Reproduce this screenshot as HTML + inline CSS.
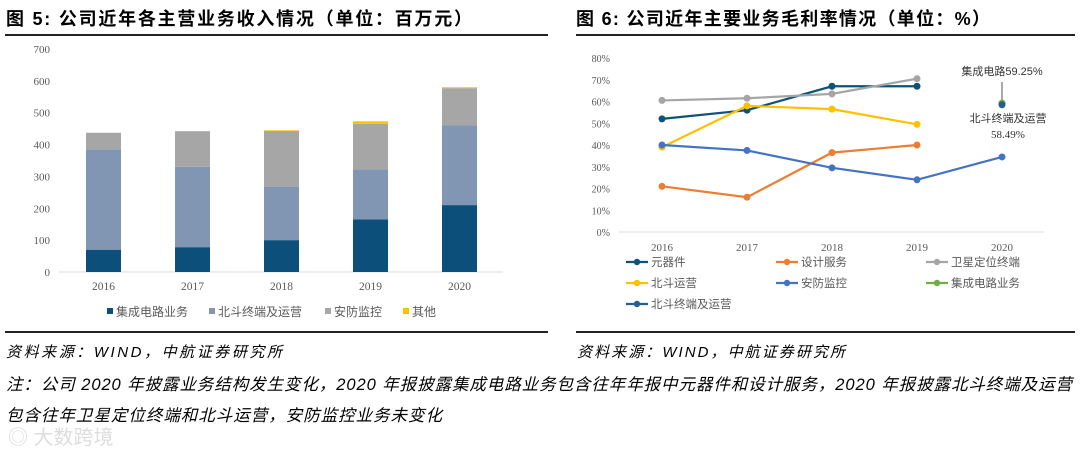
<!DOCTYPE html>
<html><head><meta charset="utf-8"><style>
body{margin:0;background:#fff;width:1080px;height:453px;overflow:hidden}
svg text{font-family:"Liberation Serif","Noto Serif CJK SC",serif}
.cjk{font-family:"Liberation Sans","Noto Sans CJK SC",sans-serif}
</style></head><body>
<svg id="s" width="1080" height="453" xmlns="http://www.w3.org/2000/svg">
<text x="6" y="25" font-size="18" font-weight="bold" class="cjk" textLength="466" lengthAdjust="spacing">图 5:  公司近年各主营业务收入情况（单位：百万元）</text>
<text x="576" y="25" font-size="18" font-weight="bold" class="cjk" textLength="414" lengthAdjust="spacing">图 6:  公司近年主要业务毛利率情况（单位：%）</text>
<rect x="5" y="34" width="543" height="2" fill="#222"/>
<rect x="576" y="34" width="499" height="2" fill="#222"/>
<rect x="5" y="331" width="543" height="2" fill="#222"/>
<rect x="576" y="331" width="499" height="2" fill="#222"/>
<text x="6" y="357" font-size="15" font-style="italic" class="cjk" textLength="276" lengthAdjust="spacing">资料来源：WIND，中航证券研究所</text>
<text x="577" y="357" font-size="15" font-style="italic" class="cjk" textLength="268" lengthAdjust="spacing">资料来源：WIND，中航证券研究所</text>
<text x="6" y="390" font-size="16.5" font-style="italic" class="cjk" textLength="1066" lengthAdjust="spacing">注：公司 2020 年披露业务结构发生变化，2020 年报披露集成电路业务包含往年年报中元器件和设计服务，2020 年报披露北斗终端及运营</text>
<text x="6" y="421" font-size="16.5" font-style="italic" class="cjk" textLength="436" lengthAdjust="spacing">包含往年卫星定位终端和北斗运营，安防监控业务未变化</text>
<text x="8" y="444" font-size="20" fill="#ddd" class="cjk">◎ 大数跨境</text>
<g id="left"></g>
<g id="right"></g>
</svg>
<script>
const years=["2016","2017","2018","2019","2020"];
const icRev=[70,78,100,165,210];
const bdRev=[315,252,168,157,250];
const secRev=[52,112,175,143,117];
const otherRev=[0,0,2,8,3];
const revTicks=[0,100,200,300,400,500,600,700];
const revSeriesNames=["集成电路业务","北斗终端及运营","安防监控","其他"];
const revColors=["#0b4f7a","#8196b2","#a6a6a6","#ffc000"];

const marginTicks=[0,10,20,30,40,50,60,70,80];
const compM=[52,56,67,67,null];
const designM=[21,16,36.5,40,null];
const satM=[60.5,61.5,63.5,70.5,null];
const bdOpM=[39,58,56.5,49.5,null];
const secM=[40,37.5,29.5,24,34.5];
const icM=[null,null,null,null,59.25];
const bdTermM=[null,null,null,null,58.49];
const mNames=["元器件","设计服务","卫星定位终端","北斗运营","安防监控","集成电路业务","北斗终端及运营"];
const mColors=["#0d5373","#ed7d31","#a5a5a5","#ffc000","#4472c4","#70ad47","#255e91"];

const NS="http://www.w3.org/2000/svg";
function mk(p,t,a,txt){const e=document.createElementNS(NS,t);for(const k in a)e.setAttribute(k,a[k]);if(txt!=null)e.textContent=txt;p.appendChild(e);return e;}

const L=document.getElementById('left');
const ly=v=>272-v*(223/700), lx=i=>103.5+i*89;
revTicks.forEach(t=>{const e=mk(L,'text',{x:50,y:ly(t)+4,'font-size':11,fill:'#595959','text-anchor':'end'},t);

});
const ax=mk(L,'line',{x1:59,x2:503,y1:272,y2:272,stroke:'#d9d9d9'});


const series=[icRev,bdRev,secRev,otherRev];
years.forEach((y,i)=>{let base=0;series.forEach((s,k)=>{const v=s[i];if(v>0){const r=mk(L,'rect',{x:lx(i)-17.5,width:35,y:ly(base+v),height:ly(base)-ly(base+v),fill:revColors[k]});

}base+=v;});
const t=mk(L,'text',{x:lx(i),y:290,'font-size':11.5,fill:'#595959','text-anchor':'middle'},y);

});
const lgx=[107,209,325,403];
revSeriesNames.forEach((n,k)=>{const g=mk(L,'g',{});


mk(g,'rect',{x:lgx[k],y:308,width:6,height:6,fill:revColors[k]});
mk(g,'text',{x:lgx[k]+9,y:316,'font-size':12,fill:'#595959',class:'cjk'},n);});

const R=document.getElementById('right');
const ry=v=>232-v*(174/80), rx=i=>662+i*85;
marginTicks.forEach(t=>{const e=mk(R,'text',{x:610,y:ry(t)+4,'font-size':10,fill:'#595959','text-anchor':'end'},t+'%');

});
const ax2=mk(R,'line',{x1:619,x2:1044,y1:232,y2:232,stroke:'#d9d9d9'});


years.forEach((y,i)=>{const t=mk(R,'text',{x:rx(i),y:251,'font-size':11,fill:'#595959','text-anchor':'middle'},y);

});
const ms=[compM,designM,satM,bdOpM,secM,icM,bdTermM];
ms.forEach((s,k)=>{const pts=[];s.forEach((v,i)=>{if(v!=null)pts.push([rx(i),ry(v)]);});
const g=mk(R,'g',{});


if(pts.length>1)mk(g,'polyline',{points:pts.map(p=>p.join(',')).join(' '),fill:'none',stroke:mColors[k],'stroke-width':2.2});
pts.forEach(p=>mk(g,'circle',{cx:p[0],cy:p[1],r:3.5,fill:mColors[k]}));});
const an=mk(R,'g',{});


mk(an,'text',{x:1002,y:75,'font-size':11,fill:'#333','text-anchor':'middle',class:'cjk'},'集成电路'+icM[4]+'%');
mk(an,'line',{x1:1002,x2:1002,y1:82,y2:100,stroke:'#555'});
mk(an,'text',{x:1008,y:122,'font-size':11,fill:'#333','text-anchor':'middle',class:'cjk'},'北斗终端及运营');
mk(an,'text',{x:1008,y:138,'font-size':11,fill:'#333','text-anchor':'middle'},bdTermM[4]+'%');
const lpos=[[626,262],[776,262],[926,262],[626,283],[776,283],[926,283],[626,304]];
mNames.forEach((n,k)=>{const g=mk(R,'g',{});


const [x,y]=lpos[k];mk(g,'line',{x1:x,x2:x+22,y1:y,y2:y,stroke:mColors[k],'stroke-width':2.2});
mk(g,'circle',{cx:x+11,cy:y,r:3.2,fill:mColors[k]});
mk(g,'text',{x:x+25,y:y+4,'font-size':11.5,fill:'#595959',class:'cjk'},n);});
</script>
</body></html>
